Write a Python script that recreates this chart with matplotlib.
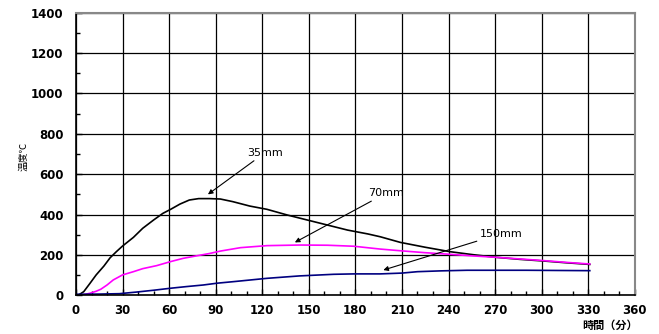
import numpy as np
import matplotlib.pyplot as plt
from matplotlib.ticker import MultipleLocator

plt.rcParams['font.family'] = ['Noto Sans CJK JP', 'DejaVu Sans']

# time (min) and temperature (degC)
t35 = [0, 2, 5, 9, 13, 18, 22, 26, 30, 37, 43, 50, 56, 61, 67, 73, 79, 86, 93, 101, 112, 123, 136, 149, 162, 175, 188, 196,
       209, 225, 241, 256, 271, 286, 301, 316, 331]
T35 = [0, 3, 18, 59, 101, 145, 186, 216, 244, 287, 332, 373, 406, 426, 452, 472, 479, 479, 477, 464, 442, 426, 398, 373, 348, 323, 304, 290,
       262, 238, 216, 201, 188, 178, 170, 161, 153]

t70 = [0, 5, 9, 13, 16, 20, 24, 30, 37, 43, 52, 61, 69, 78, 86, 93, 106, 123, 144, 162, 179, 196, 210, 225, 241, 256, 271, 286, 301, 316, 331]
T70 = [0, 3, 10, 20, 30, 51, 76, 101, 117, 132, 147, 167, 183, 196, 207, 219, 236, 246, 249, 248, 243, 229, 220, 211, 203, 195, 188, 180, 172, 163, 155]

t150 = [0, 15, 28, 39, 50, 61, 71, 82, 91, 102, 123, 144, 166, 179, 196, 210, 220, 235, 252, 270, 290, 310, 331]
T150 = [5, 6, 8, 16, 25, 35, 43, 51, 60, 68, 84, 96, 104, 106, 106, 110, 117, 121, 124, 124, 124, 123, 122]

xticks = list(range(0, 361, 30))
yticks = list(range(0, 1401, 200))

fig = plt.figure(figsize=(6.59, 3.34), dpi=100)
ax = fig.add_axes([0.1153, 0.1159, 0.848, 0.846])

ax.plot(t35, T35, color='black', lw=1.2)
ax.plot(t70, T70, color='#ff00ff', lw=1.2)
ax.plot(t150, T150, color='#000080', lw=1.2)

ax.set_xlim(0, 360)
ax.set_ylim(0, 1400)
ax.set_xticks(xticks)
ax.set_yticks(yticks)
ax.xaxis.set_minor_locator(MultipleLocator(10))
ax.yaxis.set_minor_locator(MultipleLocator(100))
ax.tick_params(axis='both', which='both', direction='in', labelsize=8.5)
ax.tick_params(axis='both', which='major', length=4, width=1)
ax.tick_params(axis='both', which='minor', length=3, width=1)
ax.tick_params(axis='x', pad=6)
ax.tick_params(axis='y', pad=9)
for lab in ax.get_xticklabels() + ax.get_yticklabels():
    lab.set_fontweight('bold')
    lab.set_family('DejaVu Sans')

ax.grid(True, which='major', color='black', lw=0.9)
ax.spines['left'].set_color('black')
ax.spines['bottom'].set_color('black')
ax.spines['left'].set_linewidth(1.2)
ax.spines['bottom'].set_linewidth(1.2)
ax.spines['top'].set_color('#888888')
ax.spines['right'].set_color('#888888')
ax.spines['top'].set_linewidth(1.5)
ax.spines['right'].set_linewidth(1.5)

ax.set_ylabel('温度℃', fontsize=7)
ax.yaxis.set_label_coords(-0.085, 0.49)
ax.text(1.005, -0.105, '時間（分）', transform=ax.transAxes, ha='right', va='center', fontsize=8, fontweight='bold')

arrow = dict(arrowstyle='-|>', color='black', lw=0.8, mutation_scale=7, shrinkA=0, shrinkB=0)
ax.annotate('35mm', xy=(85, 500), xytext=(110, 705), fontsize=8, fontfamily='DejaVu Sans',
            va='center', ha='left', arrowprops=arrow)
ax.annotate('70mm', xy=(141, 262), xytext=(188, 505), fontsize=8, fontfamily='DejaVu Sans',
            va='center', ha='left', arrowprops=arrow)
ax.annotate('150mm', xy=(198, 125), xytext=(260, 305), fontsize=8, fontfamily='DejaVu Sans',
            va='center', ha='left', arrowprops=arrow)

fig.savefig('out.png', dpi=100)
